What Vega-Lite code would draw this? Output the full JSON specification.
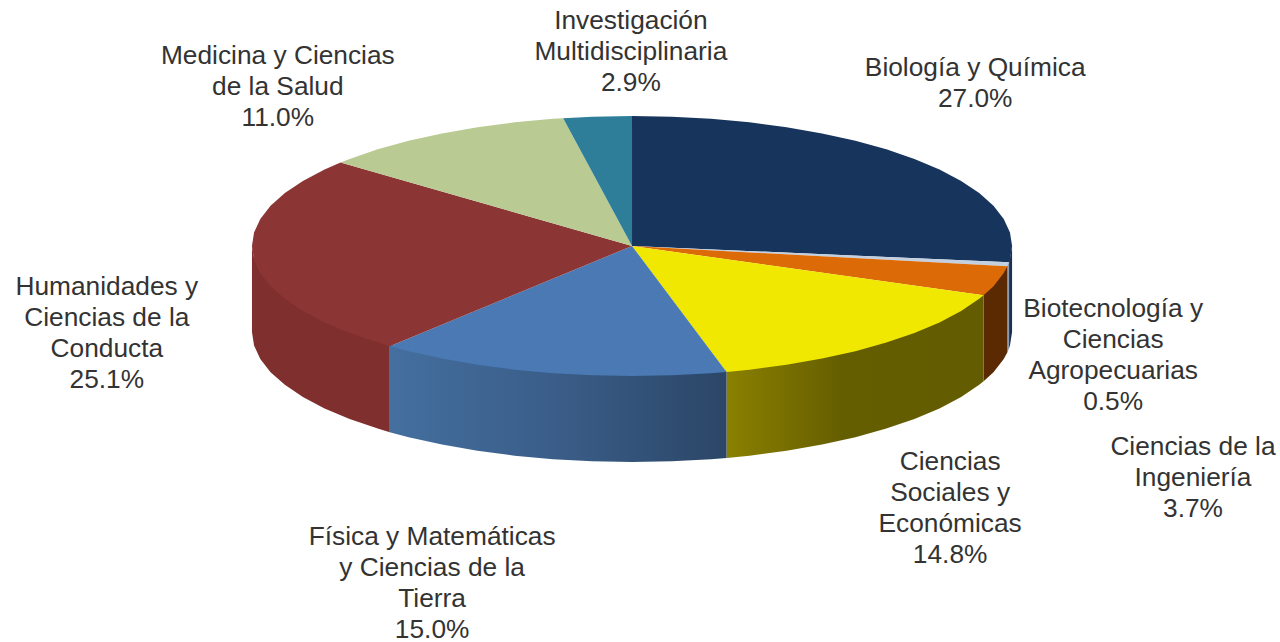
{"$schema":"https://vega.github.io/schema/vega-lite/v6.json","width":1280,"height":642,"autosize":{"type":"none"},"padding":0,"background":"white","config":{"view":{"stroke":null}},
"datasets":{
"walls":[
{"s":"Biología","x":100,"y":0,"y2":-66.15},{"s":"Biología","x":99.45,"y":-9.45,"y2":-76.6},{"s":"Biología","x":99.21,"y":-11.53,"y2":-78.68},
{"s":"Biotecnología","x":99.21,"y":-11.53,"y2":-78.68},{"s":"Biotecnología","x":98.77,"y":-14.64,"y2":-81.79},
{"s":"Ingeniería","x":98.77,"y":-14.64,"y2":-81.79},{"s":"Ingeniería","x":97.81,"y":-19.79,"y2":-86.94},{"s":"Ingeniería","x":95.11,"y":-29.9,"y2":-97.05},{"s":"Ingeniería","x":92.51,"y":-36.98,"y2":-104.13},
{"s":"Sociales","x":92.51,"y":-36.98,"y2":-104.13},{"s":"Sociales","x":91.35,"y":-39.67,"y2":-106.82},{"s":"Sociales","x":86.6,"y":-49,"y2":-116.15},{"s":"Sociales","x":80.9,"y":-57.78,"y2":-124.93},{"s":"Sociales","x":74.31,"y":-65.91,"y2":-133.06},{"s":"Sociales","x":66.91,"y":-73.31,"y2":-140.46},{"s":"Sociales","x":58.78,"y":-79.9,"y2":-147.05},{"s":"Sociales","x":50,"y":-85.6,"y2":-152.75},{"s":"Sociales","x":40.67,"y":-90.35,"y2":-157.5},{"s":"Sociales","x":30.9,"y":-94.11,"y2":-161.26},{"s":"Sociales","x":24.87,"y":-95.86,"y2":-163.01},
{"s":"Física","x":24.87,"y":-95.86,"y2":-163.01},{"s":"Física","x":20.79,"y":-96.81,"y2":-163.96},{"s":"Física","x":10.45,"y":-98.45,"y2":-165.6},{"s":"Física","x":0,"y":-99,"y2":-166.15},{"s":"Física","x":-10.45,"y":-98.45,"y2":-165.6},{"s":"Física","x":-20.79,"y":-96.81,"y2":-163.96},{"s":"Física","x":-30.9,"y":-94.11,"y2":-161.26},{"s":"Física","x":-40.67,"y":-90.35,"y2":-157.5},{"s":"Física","x":-50,"y":-85.6,"y2":-152.75},{"s":"Física","x":-58.78,"y":-79.9,"y2":-147.05},{"s":"Física","x":-63.74,"y":-76.05,"y2":-143.2},
{"s":"Humanidades","x":-63.74,"y":-76.05,"y2":-143.2},{"s":"Humanidades","x":-66.91,"y":-73.31,"y2":-140.46},{"s":"Humanidades","x":-74.31,"y":-65.91,"y2":-133.06},{"s":"Humanidades","x":-80.9,"y":-57.78,"y2":-124.93},{"s":"Humanidades","x":-86.6,"y":-49,"y2":-116.15},{"s":"Humanidades","x":-91.35,"y":-39.67,"y2":-106.82},{"s":"Humanidades","x":-95.11,"y":-29.9,"y2":-97.05},{"s":"Humanidades","x":-97.81,"y":-19.79,"y2":-86.94},{"s":"Humanidades","x":-99.45,"y":-9.45,"y2":-76.6},{"s":"Humanidades","x":-100,"y":0,"y2":-66.15}
],
"tops":[
{"s":"Biología","o":0,"x":0,"y":0},{"s":"Biología","o":1,"x":0,"y":100},{"s":"Biología","o":2,"x":10.45,"y":99.45},{"s":"Biología","o":3,"x":20.79,"y":97.81},{"s":"Biología","o":4,"x":30.9,"y":95.11},{"s":"Biología","o":5,"x":40.67,"y":91.35},{"s":"Biología","o":6,"x":50,"y":86.6},{"s":"Biología","o":7,"x":58.78,"y":80.9},{"s":"Biología","o":8,"x":66.91,"y":74.31},{"s":"Biología","o":9,"x":74.31,"y":66.91},{"s":"Biología","o":10,"x":80.9,"y":58.78},{"s":"Biología","o":11,"x":86.6,"y":50},{"s":"Biología","o":12,"x":91.35,"y":40.67},{"s":"Biología","o":13,"x":95.11,"y":30.9},{"s":"Biología","o":14,"x":97.81,"y":20.79},{"s":"Biología","o":15,"x":99.45,"y":10.45},{"s":"Biología","o":16,"x":100,"y":0},{"s":"Biología","o":17,"x":99.45,"y":-10.45},{"s":"Biología","o":18,"x":99.21,"y":-12.53},
{"s":"Biotecnología","o":0,"x":0,"y":0},{"s":"Biotecnología","o":1,"x":99.21,"y":-12.53},{"s":"Biotecnología","o":2,"x":98.77,"y":-15.64},
{"s":"Ingeniería","o":0,"x":0,"y":0},{"s":"Ingeniería","o":1,"x":98.77,"y":-15.64},{"s":"Ingeniería","o":2,"x":97.81,"y":-20.79},{"s":"Ingeniería","o":3,"x":95.11,"y":-30.9},{"s":"Ingeniería","o":4,"x":92.51,"y":-37.98},
{"s":"Sociales","o":0,"x":0,"y":0},{"s":"Sociales","o":1,"x":92.51,"y":-37.98},{"s":"Sociales","o":2,"x":91.35,"y":-40.67},{"s":"Sociales","o":3,"x":86.6,"y":-50},{"s":"Sociales","o":4,"x":80.9,"y":-58.78},{"s":"Sociales","o":5,"x":74.31,"y":-66.91},{"s":"Sociales","o":6,"x":66.91,"y":-74.31},{"s":"Sociales","o":7,"x":58.78,"y":-80.9},{"s":"Sociales","o":8,"x":50,"y":-86.6},{"s":"Sociales","o":9,"x":40.67,"y":-91.35},{"s":"Sociales","o":10,"x":30.9,"y":-95.11},{"s":"Sociales","o":11,"x":24.87,"y":-96.86},
{"s":"Física","o":0,"x":0,"y":0},{"s":"Física","o":1,"x":24.87,"y":-96.86},{"s":"Física","o":2,"x":20.79,"y":-97.81},{"s":"Física","o":3,"x":10.45,"y":-99.45},{"s":"Física","o":4,"x":0,"y":-100},{"s":"Física","o":5,"x":-10.45,"y":-99.45},{"s":"Física","o":6,"x":-20.79,"y":-97.81},{"s":"Física","o":7,"x":-30.9,"y":-95.11},{"s":"Física","o":8,"x":-40.67,"y":-91.35},{"s":"Física","o":9,"x":-50,"y":-86.6},{"s":"Física","o":10,"x":-58.78,"y":-80.9},{"s":"Física","o":11,"x":-63.74,"y":-77.05},
{"s":"Humanidades","o":0,"x":0,"y":0},{"s":"Humanidades","o":1,"x":-63.74,"y":-77.05},{"s":"Humanidades","o":2,"x":-66.91,"y":-74.31},{"s":"Humanidades","o":3,"x":-74.31,"y":-66.91},{"s":"Humanidades","o":4,"x":-80.9,"y":-58.78},{"s":"Humanidades","o":5,"x":-86.6,"y":-50},{"s":"Humanidades","o":6,"x":-91.35,"y":-40.67},{"s":"Humanidades","o":7,"x":-95.11,"y":-30.9},{"s":"Humanidades","o":8,"x":-97.81,"y":-20.79},{"s":"Humanidades","o":9,"x":-99.45,"y":-10.45},{"s":"Humanidades","o":10,"x":-100,"y":0},{"s":"Humanidades","o":11,"x":-99.45,"y":10.45},{"s":"Humanidades","o":12,"x":-97.81,"y":20.79},{"s":"Humanidades","o":13,"x":-95.11,"y":30.9},{"s":"Humanidades","o":14,"x":-91.35,"y":40.67},{"s":"Humanidades","o":15,"x":-86.6,"y":50},{"s":"Humanidades","o":16,"x":-80.9,"y":58.78},{"s":"Humanidades","o":17,"x":-76.69,"y":64.19},
{"s":"Medicina","o":0,"x":0,"y":0},{"s":"Medicina","o":1,"x":-76.69,"y":64.19},{"s":"Medicina","o":2,"x":-74.31,"y":66.91},{"s":"Medicina","o":3,"x":-66.91,"y":74.31},{"s":"Medicina","o":4,"x":-58.78,"y":80.9},{"s":"Medicina","o":5,"x":-50,"y":86.6},{"s":"Medicina","o":6,"x":-40.67,"y":91.35},{"s":"Medicina","o":7,"x":-30.9,"y":95.11},{"s":"Medicina","o":8,"x":-20.79,"y":97.81},{"s":"Medicina","o":9,"x":-18.12,"y":98.34},
{"s":"Investigación","o":0,"x":0,"y":0},{"s":"Investigación","o":1,"x":-18.12,"y":98.34},{"s":"Investigación","o":2,"x":-10.45,"y":99.45},{"s":"Investigación","o":3,"x":0,"y":100}
],
"labels":[
{"t":"Investigación\nMultidisciplinaria\n2.9%","x":-0.3,"y":173.1},
{"t":"Medicina y Ciencias\nde la Salud\n11.0%","x":-93.2,"y":146.2},
{"t":"Biología y Química\n27.0%","x":90.3,"y":136.9},
{"t":"Biotecnología y\nCiencias\nAgropecuarias\n0.5%","x":126.6,"y":-48.5},
{"t":"Ciencias de la\nIngeniería\n3.7%","x":147.6,"y":-154.6},
{"t":"Ciencias\nSociales y\nEconómicas\n14.8%","x":83.7,"y":-166.2},
{"t":"Física y Matemáticas\ny Ciencias de la\nTierra\n15.0%","x":-52.6,"y":-223.8},
{"t":"Humanidades y\nCiencias de la\nConducta\n25.1%","x":-138.2,"y":-31.5}
]},
"encoding":{"x":{"field":"x","type":"quantitative","scale":{"domain":[-166.3,170.5],"nice":false,"zero":false},"axis":null},"y":{"field":"y","type":"quantitative","scale":{"domain":[-304.6,189.2],"nice":false,"zero":false},"axis":null}},
"layer":[
{"data":{"name":"walls"},"transform":[{"filter":"datum.s==='Biología'"}],"mark":{"type":"area","fill":"#1b3050"},"encoding":{"y2":{"field":"y2"}}},
{"data":{"name":"walls"},"transform":[{"filter":"datum.s==='Biotecnología'"}],"mark":{"type":"area","fill":"#8c9cb0"},"encoding":{"y2":{"field":"y2"}}},
{"data":{"name":"walls"},"transform":[{"filter":"datum.s==='Ingeniería'"}],"mark":{"type":"area","fill":"#5c2a02"},"encoding":{"y2":{"field":"y2"}}},
{"data":{"name":"walls"},"transform":[{"filter":"datum.s==='Sociales'"}],"mark":{"type":"area","fill":{"gradient":"linear","x1":0,"x2":1,"y1":0,"y2":0,"stops":[{"offset":0,"color":"#8a8000"},{"offset":0.45,"color":"#655e00"},{"offset":1,"color":"#635c00"}]}},"encoding":{"y2":{"field":"y2"}}},
{"data":{"name":"walls"},"transform":[{"filter":"datum.s==='Física'"}],"mark":{"type":"area","fill":{"gradient":"linear","x1":0,"x2":1,"y1":0,"y2":0,"stops":[{"offset":0,"color":"#446f9f"},{"offset":0.5,"color":"#3a5d88"},{"offset":1,"color":"#2b4667"}]}},"encoding":{"y2":{"field":"y2"}}},
{"data":{"name":"walls"},"transform":[{"filter":"datum.s==='Humanidades'"}],"mark":{"type":"area","fill":"#7f2f2d"},"encoding":{"y2":{"field":"y2"}}},
{"data":{"name":"tops"},"mark":{"type":"line","filled":true,"strokeWidth":0,"interpolate":"linear"},"encoding":{"order":{"field":"o","type":"quantitative"},"detail":{"field":"s"},"color":{"field":"s","type":"nominal","legend":null,"scale":{"domain":["Biología","Biotecnología","Ingeniería","Sociales","Física","Humanidades","Medicina","Investigación"],"range":["#17355c","#c3d0e0","#dc6a07","#f0e800","#4a79b4","#8c3535","#b9cb92","#2e7e99"]}}}},
{"data":{"name":"labels"},"mark":{"type":"text","font":"Liberation Sans","fontSize":26.3,"lineHeight":31,"lineBreak":"\n","align":"center","baseline":"middle","color":"#333333"},"encoding":{"text":{"field":"t"}}}
]}
